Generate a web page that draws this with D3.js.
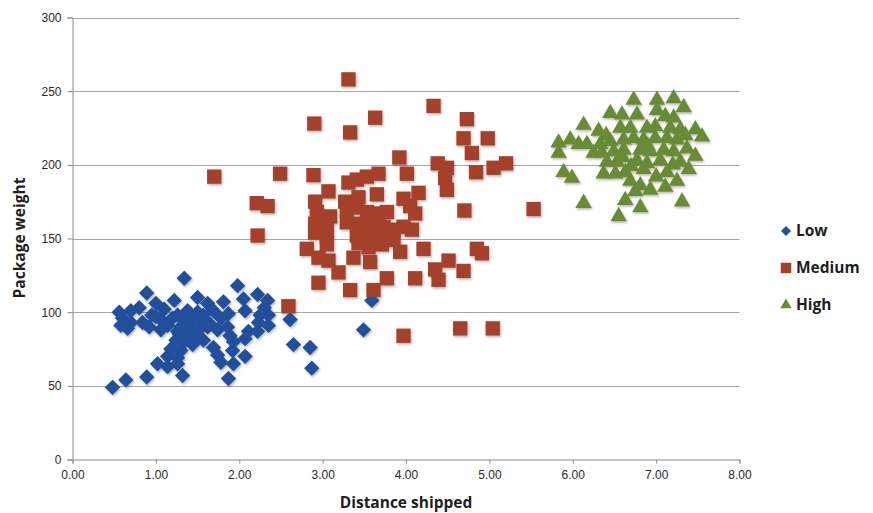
<!DOCTYPE html>
<html>
<head>
<meta charset="utf-8">
<script src="https://cdn.jsdelivr.net/npm/d3@7"></script>
<style>
  html, body { margin: 0; padding: 0; background: #fff; }
  svg { display: block; font-family: "Open Sans", "Liberation Sans", sans-serif; }
  .tick text { fill: #2a2a2a; font-size: 12px; }
  .axis path, .axis line { stroke: #8c8c8c; }
  .grid line { stroke: #a6a6a6; stroke-width: 1; }
  .axis-title { font-weight: bold; font-size: 15.5px; fill: #1e1e1e; }
  .legend text { font-weight: bold; font-size: 15.5px; fill: #1e1e1e; }
</style>
</head>
<body>
<svg id="chart" width="873" height="513"></svg>
<script>
  // Series (distance, weight)
  const lowX = [1.34,1.98,0.89,0.56,0.70,0.80,1.00,1.22,1.50,1.62, 1.81,2.05,2.22,2.34,2.07,0.58,0.66,0.84,0.92,1.06,
    1.14,1.26,1.38,1.46,1.57,1.69,1.78,1.87,2.25,2.35, 2.23,2.35,2.61,1.06,1.26,1.38,1.50,1.62,1.74,1.86,
    1.89,2.11,2.22,2.07,1.24,1.34,1.18,1.30,1.44,1.57, 1.69,1.93,1.92,2.65,2.85,1.14,1.26,1.74,1.02,1.14,
    1.26,1.78,1.93,2.07,1.32,1.87,0.89,0.64,0.48,2.87, 3.59,3.49,
    1.40,1.45,1.30,1.50,1.60,1.20,1.00,0.60,0.95,2.30,1.65,1.35,1.10,0.70,
    1.42,1.36,1.48,1.28,1.55];
  const lowY = [123,118,113,100,101,103,106,108,110,106, 107,109,112,108,101,91,89,93,90,95,
    91,98,101,96,98,101,96,99,98,98, 93,91,95,88,87,88,87,90,88,90,
    84,87,87,82,81,80,75,74,78,81, 76,80,74,78,76,70,69,71,65,63,
    65,66,65,70,57,55,56,54,49,62, 108,88,
    92,85,90,100,94,96,97,96,98,103,92,83,102,93,
    88,94,82,85,92];

  const mediumX = [3.31,4.33,4.73,2.90,3.63,3.33,4.69,4.98,4.79,3.92, 4.38,4.49,4.84,5.05,5.20,2.49,2.89,4.01,4.47,4.49,
    3.31,3.41,3.53,3.67,3.07,4.15,2.21,2.34,4.70,5.53, 2.22,2.91,2.93,3.65,3.43,3.27,3.97,4.05,4.11,3.09,
    3.29,3.41,3.53,3.67,3.77,2.91,3.05,3.29,3.43,3.57, 3.73,3.85,3.97,4.07,2.91,3.05,3.41,3.57,3.73,3.85,
    2.81,3.05,3.43,3.55,3.71,3.93,4.21,4.85,4.91,2.95, 3.07,3.37,3.57,4.51,3.19,4.35,4.69,3.77,4.11,4.39,
    2.95,3.33,3.61,2.59,3.97,4.65,5.04,1.70];
  const mediumY = [258,240,231,228,232,222,218,218,208,205, 201,198,195,198,201,194,193,194,191,183,
    188,190,192,194,182,181,174,172,169,170, 152,175,168,180,178,175,177,172,167,165,
    169,171,168,167,168,160,159,161,160,160, 158,156,158,156,154,151,152,151,151,149,
    143,146,147,144,146,141,143,143,140,137, 135,137,134,135,127,129,128,123,123,122,
    120,115,115,104,84,89,89,192];

  const highX = [6.73,7.01,7.21,7.33,6.45,6.59,6.77,7.01,7.11,7.21, 6.13,6.31,6.57,6.69,6.89,6.99,7.17,7.29,7.47,7.55,
    5.83,5.97,6.07,6.17,6.33,6.45,6.61,6.73,6.85,6.99, 7.13,7.25,7.37,5.83,6.35,6.49,6.61,6.81,6.93,7.09,
    7.21,7.47,6.41,6.53,6.77,6.89,7.05,7.29,5.89,5.99, 6.37,6.51,6.63,6.85,7.13,7.39,6.69,6.81,6.93,7.11,
    7.25,6.75,6.63,6.81,6.13,7.31,6.55,
    6.60,6.90,7.00,6.70,7.20,6.40,7.35,6.25];
  const highY = [244,244,245,239,235,234,234,237,233,232, 227,223,225,225,225,226,225,224,224,219,
    215,217,214,214,214,216,217,218,217,218, 218,217,211,208,208,209,210,210,209,210,
    209,206,202,202,203,201,203,202,195,191, 194,194,195,197,195,197,189,186,183,185,
    189,182,176,171,174,175,165,
    205,213,192,199,200,220,220,208];

  const seriesNames = ['Low', 'Medium', 'High'];
  const xTicks = [0, 1, 2, 3, 4, 5, 6, 7, 8];
  const yTicks = [0, 50, 100, 150, 200, 250, 300];

  const COLORS = { Low: '#22509c', Medium: '#a5402a', High: '#6a8b34' };
  const SHAPES = {
    Low: d3.symbol(d3.symbolSquare, 118),     // rotated 45deg below
    Medium: d3.symbol(d3.symbolSquare, 205),
    High: d3.symbol(d3.symbolTriangle, 118)
  };

  const svg = d3.select('#chart');
  const x = d3.scaleLinear().domain([0, 8]).range([72.5, 739.5]);
  const y = d3.scaleLinear().domain([0, 300]).range([459.5, 17.5]);

  const defs = svg.append('defs');
  const f = defs.append('filter').attr('id', 'shadow').attr('x', '-50%').attr('y', '-50%').attr('width', '200%').attr('height', '200%');
  f.append('feDropShadow').attr('dx', 1).attr('dy', 1.5).attr('stdDeviation', 1).attr('flood-color', '#000').attr('flood-opacity', 0.3);

  // gridlines
  svg.append('g').attr('class', 'grid')
    .selectAll('line').data(yTicks.filter(v => v > 0)).join('line')
    .attr('x1', x(0)).attr('x2', x(8))
    .attr('y1', d => Math.round(y(d)) + 0.5).attr('y2', d => Math.round(y(d)) + 0.5);

  svg.append('g').attr('class', 'axis')
    .attr('transform', `translate(${x(0)},0)`)
    .call(d3.axisLeft(y).tickValues(yTicks).tickSize(5).tickPadding(6).tickFormat(d3.format('d')));

  svg.append('g').attr('class', 'axis')
    .attr('transform', `translate(0,${y(0)})`)
    .call(d3.axisBottom(x).tickValues(xTicks).tickSize(4).tickPadding(7).tickFormat(d3.format('.2f')));

  svg.selectAll('.axis .domain').attr('stroke', '#8c8c8c');

  const series = [
    { name: 'Low', xs: lowX, ys: lowY },
    { name: 'Medium', xs: mediumX, ys: mediumY },
    { name: 'High', xs: highX, ys: highY }
  ];

  function place(name, px, py) {
    return name === 'Low' ? `translate(${px},${py}) rotate(45)` : `translate(${px},${py})`;
  }

  const plot = svg.append('g').attr('filter', 'url(#shadow)');
  series.forEach(s => {
    const pts = s.xs.map((v, i) => [v, s.ys[i]]);
    plot.append('g').selectAll('path').data(pts).join('path')
      .attr('d', SHAPES[s.name])
      .attr('transform', d => place(s.name, x(d[0]), y(d[1])))
      .attr('fill', COLORS[s.name]);
  });

  // axis titles
  svg.append('text').attr('class', 'axis-title')
    .attr('transform', 'translate(25,238) rotate(-90)')
    .attr('text-anchor', 'middle').text('Package weight');
  svg.append('text').attr('class', 'axis-title')
    .attr('x', 406).attr('y', 508).attr('text-anchor', 'middle').text('Distance shipped');

  // legend
  const legend = svg.append('g').attr('class', 'legend');
  const lg = legend.selectAll('g').data(seriesNames).join('g')
    .attr('transform', (d, i) => `translate(786,${231 + i * 37})`);
  lg.append('path')
    .attr('d', d => d === 'Low' ? d3.symbol(d3.symbolSquare, 50)() : d === 'Medium' ? d3.symbol(d3.symbolSquare, 110)() : d3.symbol(d3.symbolTriangle, 55)())
    .attr('transform', d => d === 'Low' ? 'rotate(45)' : null)
    .attr('fill', d => COLORS[d]);
  lg.append('text').attr('x', 10).attr('dy', '0.35em').text(d => d);
</script>
</body>
</html>
